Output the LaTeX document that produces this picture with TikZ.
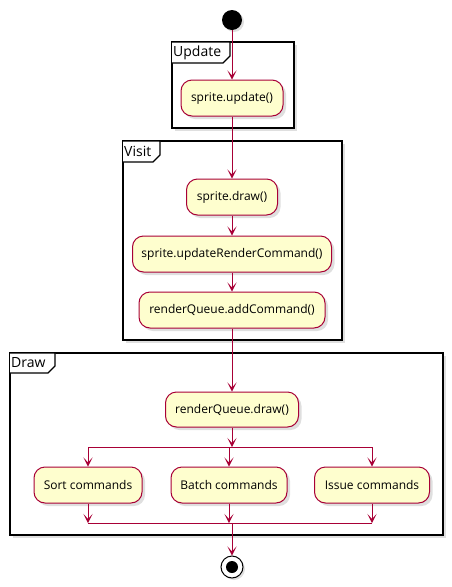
\documentclass[tikz,border=0pt]{standalone}
\usepackage{fontspec}
\setmainfont{Open Sans}
\usepackage{xcolor}
\usepackage{tikz}
\usetikzlibrary{arrows.meta}
\usetikzlibrary{shadows}

\definecolor{umlred}{HTML}{A80036}
\definecolor{umlfill}{HTML}{FEFECE}

\tikzset{
  action/.style={draw=umlred, fill=umlfill, rounded corners=11pt,
    minimum height=36pt, inner sep=0pt, line width=1pt,
    font=\fontsize{12}{14}\selectfont,
    drop shadow={shadow xshift=3pt, shadow yshift=-3pt, opacity=0.25}},
  flow/.style={draw=umlred, line width=1pt,
    -{Stealth[length=9pt, width=9pt, inset=5pt]}},
  bar/.style={draw=umlred, line width=1pt},
  part/.style={draw=black, line width=1.8pt, fill=white,
    drop shadow={shadow xshift=3pt, shadow yshift=-3pt, opacity=0.25}},
  parttab/.style={draw=black, line width=1.2pt, fill=white},
  partlabel/.style={anchor=west, inner sep=1pt, font=\fontsize{14}{16}\selectfont}
}

\begin{document}
\begin{tikzpicture}[x=1pt, y=-1pt]
    \useasboundingbox (0,0) rectangle (452,587);

    % Partitions
    \draw[part] (172,42) rectangle (294,128);
    \draw[parttab] (172,42) -- (230,42) -- (230,56) -- (223,63) -- (172,63);
    \node[partlabel] (updatelabel) at (172,52.5) {Update};

    \draw[part] (123,141) rectangle (342,340);
    \draw[parttab] (123,141) -- (160,141) -- (160,155) -- (153,162) -- (123,162);
    \node[partlabel] (visitlabel) at (123,151.5) {Visit};

    \draw[part] (10,353) rectangle (443,535);
    \draw[parttab] (10,353) -- (55,353) -- (55,366) -- (48,373) -- (10,373);
    \node[partlabel] (drawlabel) at (10,363) {Draw};

    % Start and stop
    \node[circle, fill=black, minimum size=20pt, inner sep=0pt,
      drop shadow={shadow xshift=2pt, shadow yshift=-2pt, opacity=0.25}] (start) at (232,20) {};
    \node[circle, draw=black, fill=white, line width=1pt, minimum size=22pt, inner sep=0pt,
      drop shadow={shadow xshift=2pt, shadow yshift=-2pt, opacity=0.25}] (stop) at (232,567) {};
    \fill[black] (stop) circle (6pt);

    % Actions
    \node[action, minimum width=102pt] (update) at (232,98) {sprite.update()};
    \node[action, minimum width=91pt] (spritedraw) at (232,197) {sprite.draw()};
    \node[action, minimum width=199pt] (updatecmd) at (232,254) {sprite.updateRenderCommand()};
    \node[action, minimum width=186pt] (addcmd) at (232,310) {renderQueue.addCommand()};
    \node[action, minimum width=133pt, minimum height=35pt] (rqdraw) at (232,409.5) {renderQueue.draw()};
    \node[action, minimum width=108pt] (sort) at (88,485) {Sort commands};
    \node[action, minimum width=116pt] (batch) at (229,485) {Batch commands};
    \node[action, minimum width=115pt] (issue) at (372,485) {Issue commands};

    % Fork and join
    \coordinate (fork) at (232,447);
    \coordinate (forkleft) at (88,447);
    \coordinate (forkright) at (372,447);
    \coordinate (join) at (232,523);

    \draw[flow] (start) -- (update);
    \draw[flow] (update) -- (spritedraw);
    \draw[flow] (spritedraw) -- (updatecmd);
    \draw[flow] (updatecmd) -- (addcmd);
    \draw[flow] (addcmd) -- (rqdraw);
    \draw[flow] (rqdraw) -- (fork);
    \draw[bar] (forkleft) -- (forkright);
    \draw[flow] (forkleft) -- (sort);
    \draw[flow] (batch |- fork) -- (batch);
    \draw[flow] (forkright) -- (issue);
    \draw[flow] (sort) -- (sort |- join);
    \draw[flow] (batch) -- (batch |- join);
    \draw[flow] (issue) -- (issue |- join);
    \draw[bar] (sort |- join) -- (issue |- join);
    \draw[flow] (join) -- (stop);
\end{tikzpicture}
\end{document}
